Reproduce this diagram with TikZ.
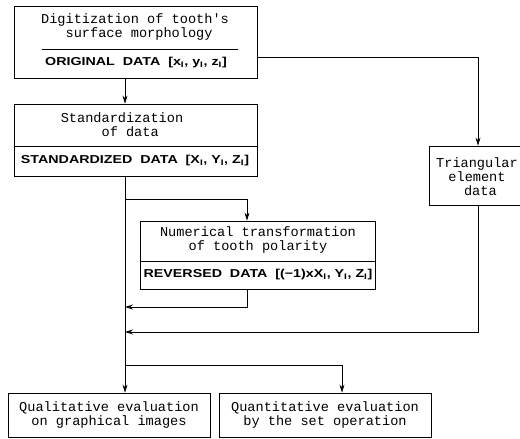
\documentclass[tikz,border=0pt]{standalone}
\usepackage{fontspec}
\usepackage{graphicx}
\setmainfont{Liberation Mono}
\newfontfamily\datafont{Liberation Sans}
\usetikzlibrary{arrows.meta}
\tikzset{
  box/.style={draw, line width=0.8pt, inner sep=0pt},
  txt/.style={inner sep=0pt, font=\fontsize{13.6}{14}\selectfont, align=center},
  dtxt/.style={inner sep=0pt, font=\datafont\bfseries\fontsize{11.5}{13}\selectfont},
  conn/.style={line width=0.8pt},
  arr/.style={conn, -{Stealth[length=8pt,width=5pt]}},
  sep/.style={line width=0.8pt}
}
\newcommand{\mysub}[1]{\textsubscript{#1}}
\newcommand{\wide}[1]{\scalebox{1.24}[1]{#1}}
\begin{document}
\begin{tikzpicture}[x=1pt,y=-1pt]
\useasboundingbox (0,0) rectangle (520,439);
% boxes
\node[box, minimum width=243pt, minimum height=72pt] (b1) at (135.5,42) {};
\node[box, minimum width=243pt, minimum height=72pt] (b2) at (135.5,140) {};
\node[box, minimum width=235pt, minimum height=68pt] (b3) at (257.5,255) {};
\node[box, minimum width=91pt, minimum height=59pt] (tri) at (474.5,175.5) {};
\node[box, minimum width=202pt, minimum height=44pt] (qa) at (109,415) {};
\node[box, minimum width=212pt, minimum height=44pt] (qb) at (325,415) {};
% texts
\node[txt] (t1) at (135,27) {Digitization of tooth\textquotesingle s\\\hspace*{0.6em}surface morphology};
\draw[sep] (42,49) -- (238,49);
\node[dtxt] (d1) at (136,63) {\wide{ORIGINAL\ \ DATA\ \ [x\mysub{I}, y\mysub{I}, z\mysub{I}]}};
\node[txt] (t2) at (122,125) {Standardization\\\hspace*{1.2em}of data};
\draw[sep] (14,146) -- (257,146);
\node[dtxt] (d2) at (135,161) {\wide{STANDARDIZED\ \ DATA\ \ [X\mysub{I}, Y\mysub{I}, Z\mysub{I}]}};
\node[txt] (t3) at (258,240) {Numerical transformation\\of tooth polarity};
\draw[sep] (140,261) -- (375,261);
\node[dtxt] (d3) at (258,275) {\wide{REVERSED\ \ DATA\ \ [(\textminus 1)xX\mysub{I}, Y\mysub{I}, Z\mysub{I}]}};
\node[txt, align=center] (t4) at (477,177) {Triangular\\element\\\hspace*{0.5em}data};
\node[txt] (t5) at (109,415) {Qualitative evaluation\\on graphical images};
\node[txt] (t6) at (325,415) {Quantitative evaluation\\by the set operation};
% connector points
\coordinate (xm) at (125,0);
\coordinate (x3) at (247,0);
\coordinate (xt) at (478,0);
\coordinate (xq) at (342,0);
\coordinate (y1) at (0,57);
\coordinate (yb) at (0,199);
\coordinate (yr) at (0,307);
\coordinate (yt) at (0,332);
\coordinate (yq) at (0,365);
\coordinate (c1) at (xt |- y1);
\coordinate (c2) at (xm |- yb);
\coordinate (c3) at (x3 |- yb);
\coordinate (c4) at (x3 |- yr);
\coordinate (c5) at (xm |- yr);
\coordinate (c6) at (xt |- yt);
\coordinate (c7) at (xm |- yt);
\coordinate (c8) at (xm |- yq);
\coordinate (c9) at (xq |- yq);
% connectors
\draw[arr] (b1.south -| xm) -- (b2.north -| xm);
\draw[arr] (b1.east |- y1) -- (c1) -- (tri.north -| xt);
\draw[arr] (b2.south -| xm) -- (qa.north -| xm);
\draw[arr] (c2) -- (c3) -- (b3.north -| x3);
\draw[arr] (b3.south -| x3) -- (c4) -- (c5);
\draw[arr] (tri.south -| xt) -- (c6) -- (c7);
\draw[arr] (c8) -- (c9) -- (qb.north -| xq);
\end{tikzpicture}
\end{document}
